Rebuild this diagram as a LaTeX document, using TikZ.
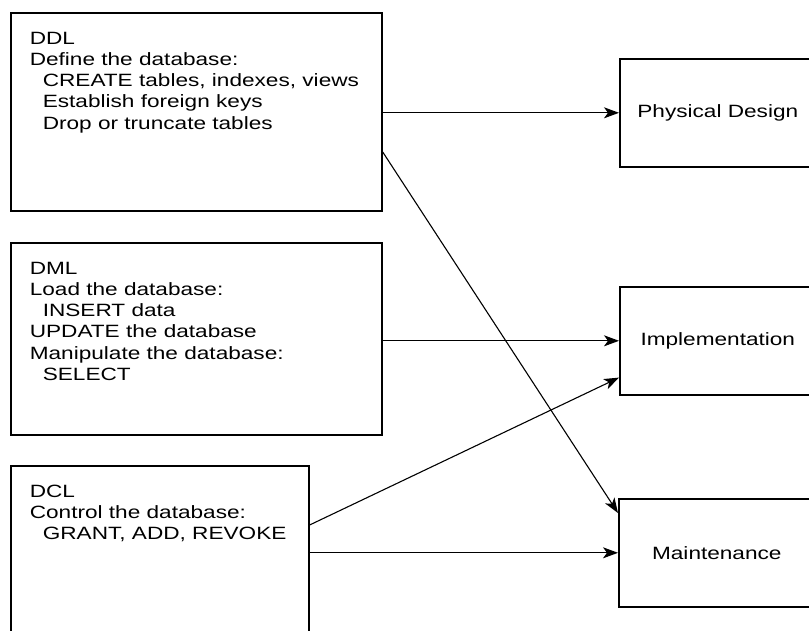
\documentclass[tikz,border=0pt]{standalone}
\usepackage{fontspec}
\setmainfont{Liberation Sans}[FakeStretch=1.27]
\usetikzlibrary{positioning}
\usetikzlibrary{arrows.meta}
\newcommand{\topbox}[3]{\parbox[t][#1][t]{#2}{\raggedright #3}}
\newcommand{\ind}{\hspace*{13pt}}

\begin{document}
\begin{tikzpicture}[x=1pt, y=-1pt,
    every node/.style={font=\fontsize{17.8}{21.3}\selectfont},
    langbox/.style={draw, line width=1.6pt, anchor=north west, inner xsep=19pt, inner ysep=19pt},
    taskbox/.style={draw, line width=1.6pt, anchor=north west, minimum width=196pt, minimum height=108pt},
    flow/.style={-{Stealth[length=15pt, width=11pt, inset=4pt]}, line width=1.1pt}]
    \useasboundingbox (0,0) rectangle (809,630);

    % language boxes
    \node[langbox] (ddl) at (10,12) {\topbox{160pt}{333pt}{DDL\\ Define the database:\\ \ind CREATE tables, indexes, views\\ \ind Establish foreign keys\\ \ind Drop or truncate tables}};
    \node[langbox] (dml) at (10,242) {\topbox{154pt}{333pt}{DML\\ Load the database:\\ \ind INSERT data\\ UPDATE the database\\ Manipulate the database:\\ \ind SELECT}};
    \node[langbox] (dcl) at (10,465) {\topbox{162pt}{260pt}{DCL\\ Control the database:\\ \ind GRANT, ADD, REVOKE}};

    % phases
    \node[taskbox] (phys) at (619,58) {Physical Design};
    \node[taskbox] (impl) at (619,286) {Implementation};
    \node[taskbox] (maint) at (618,498) {Maintenance};

    \draw[flow] (ddl.east |- phys.west) -- (phys.west);
    \draw[flow] ([yshift=-40pt]ddl.east) -- ([yshift=-15pt]maint.north west);
    \draw[flow] (dml.east |- impl.west) -- (impl.west);
    \draw[flow] ([yshift=-60pt]dcl.north east) -- ([yshift=18pt]impl.south west);
    \draw[flow] (dcl.east |- maint.west) -- (maint.west);
\end{tikzpicture}
\end{document}
